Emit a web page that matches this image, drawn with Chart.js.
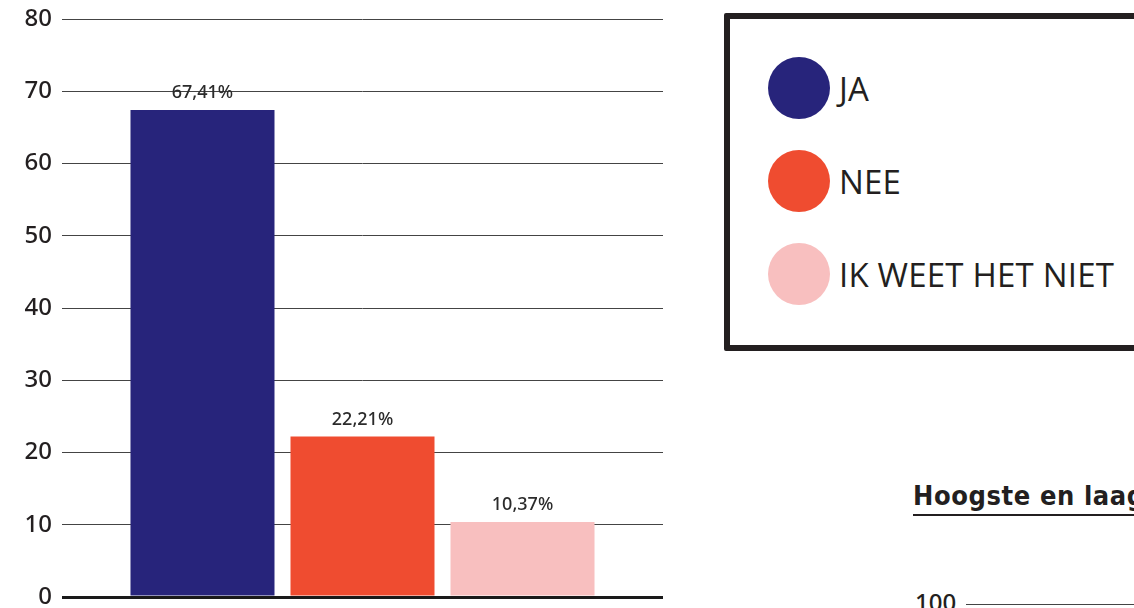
<!DOCTYPE html>
<html lang="nl">
<head>
<meta charset="utf-8">
<script src="https://cdn.jsdelivr.net/npm/chart.js@4/dist/chart.umd.min.js"></script>
<style>
  html, body { margin: 0; padding: 0; background: #fff; }
  body { width: 1134px; height: 608px; overflow: hidden; position: relative; font-family: "Noto Sans", sans-serif; }
  #chartWrap { position: absolute; left: 0; top: 0; width: 680px; height: 608px; }
  #legendBox {
    position: absolute; left: 724px; top: 13px; width: 460px; height: 326px;
    border: 6px solid #231f20; border-radius: 2px; box-sizing: content-box;
  }
  .legend-item { position: absolute; left: 38px; height: 62px; display: flex; align-items: center; }
  .legend-dot { width: 62px; height: 62px; border-radius: 50%; margin-right: 9px; }
  .legend-text { font-family: "Open Sans", sans-serif; font-weight: 400; font-size: 33px; letter-spacing: 0.2px; color: #231f20; white-space: nowrap; }
  #subTitle {
    position: absolute; left: 913px; top: 482px; white-space: nowrap;
    font-family: "DejaVu Sans Condensed", "DejaVu Sans", sans-serif; font-weight: bold; font-size: 27px;
    letter-spacing: 0.6px; color: #231f20; line-height: 1;
  }
  #subRule { position: absolute; left: 913px; top: 514px; width: 240px; height: 2px; background: #231f20; }
  #nextTick { position: absolute; left: 915px; top: 590px; font-size: 24px; font-weight: 500; color: #231f20; line-height: 1; }
  #nextLine { position: absolute; left: 966px; top: 604px; width: 200px; height: 1px; background: #444; }
</style>
</head>
<body>
<div id="chartWrap"><canvas id="answerChart" width="680" height="608"></canvas></div>
<div id="legendBox"></div>
<div id="subTitle">Hoogste en laagste</div>
<div id="subRule"></div>
<div id="nextTick">100</div>
<div id="nextLine"></div>
<script>
  // Answer shares (percent)
  const categories = [''];
  const seriesNames = ['JA', 'NEE', 'IK WEET HET NIET'];
  const seriesValues = [67.41, 22.21, 10.37];
  const seriesColors = ['#27247b', '#ef4c30', '#f8bfbf'];
  const yTickMin = 0;
  const yTickMax = 80;
  const yTickStep = 10;

  // Custom legend (HTML, outside the canvas)
  const legendBox = document.getElementById('legendBox');
  seriesNames.forEach((name, i) => {
    const item = document.createElement('div');
    item.className = 'legend-item';
    item.style.top = (38 + i * 93) + 'px';
    item.innerHTML = '<div class="legend-dot" style="background:' + seriesColors[i] + '"></div>' +
      '<span class="legend-text">' + name + '</span>';
    legendBox.appendChild(item);
  });

  // Percentage labels above bars, Dutch decimal comma
  const valueLabels = {
    id: 'valueLabels',
    afterDatasetsDraw(chart) {
      const ctx = chart.ctx;
      ctx.save();
      ctx.font = '500 18px "Noto Sans", sans-serif';
      ctx.fillStyle = '#2b2b2b';
      ctx.textAlign = 'center';
      ctx.textBaseline = 'alphabetic';
      chart.data.datasets.forEach((ds, i) => {
        const bar = chart.getDatasetMeta(i).data[0];
        const txt = ds.data[0].toFixed(2).replace('.', ',') + '%';
        ctx.fillText(txt, bar.x, bar.y - 12);
      });
      ctx.restore();
    }
  };

  const chart = new Chart(document.getElementById('answerChart').getContext('2d'), {
    type: 'bar',
    data: {
      labels: categories,
      datasets: seriesNames.map((name, i) => ({
        label: name,
        data: [seriesValues[i]],
        backgroundColor: seriesColors[i],
        borderWidth: 0
      }))
    },
    options: {
      responsive: false,
      animation: false,
      categoryPercentage: 0.7987,
      barPercentage: 0.9,
      layout: { padding: { top: 19, right: 17, bottom: 11, left: 0 } },
      plugins: {
        legend: { display: false },
        tooltip: { enabled: false }
      },
      scales: {
        x: { display: false },
        y: {
          min: yTickMin,
          max: yTickMax,
          border: { display: false },
          grid: {
            drawTicks: false,
            color: ctx => ctx.tick && ctx.tick.value === 0 ? '#1a1a1a' : '#444',
            lineWidth: ctx => ctx.tick && ctx.tick.value === 0 ? 3 : 1
          },
          ticks: {
            stepSize: yTickStep,
            padding: 10,
            color: '#231f20',
            font: { family: '"Noto Sans", sans-serif', size: 24, weight: '500', lineHeight: 1 }
          },
          afterFit: function(scale) {
            scale.width = 62;
            scale.paddingTop = 0;
            scale.paddingBottom = 0;
          }
        }
      }
    },
    plugins: [valueLabels]
  });
</script>
</body>
</html>
